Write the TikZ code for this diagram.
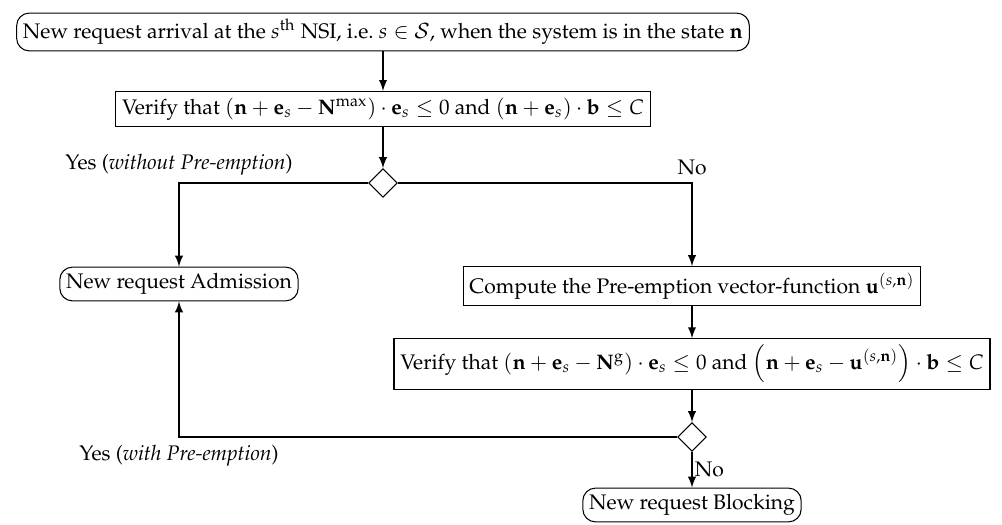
\documentclass[tikz,border=0pt]{standalone}
\usepackage[T1]{fontenc}
\usepackage{amsmath}
\usepackage{mathpazo}
\usepackage{tikz}
\usetikzlibrary{shapes.geometric}

\begin{document}
\begin{tikzpicture}[x=0.0167cm, y=-0.0167cm,
    roundbox/.style={draw, rounded corners=6pt, inner sep=3pt, line width=0.5pt},
    plainbox/.style={draw, inner sep=3pt, line width=0.5pt},
    choice/.style={draw, diamond, aspect=1, minimum width=0.48cm, minimum height=0.48cm, inner sep=0pt, line width=0.5pt},
    flow/.style={-latex, thick}]
            \useasboundingbox (0,0) rectangle (1002,525);
            % Boxes of the flow
                        \node[roundbox] (arrival) at (383,32) {New request arrival at the $s^{\text{th}}$ NSI, i.e.\ $s\in\mathcal{S}$, when the system is in the state $\mathbf{n}$};
                        \node[plainbox] (check) at (383,109) {Verify that $(\mathbf{n}+\mathbf{e}_s-\mathbf{N}^{\mathrm{max}})\cdot\mathbf{e}_s\le 0$ and $(\mathbf{n}+\mathbf{e}_s)\cdot\mathbf{b}\le C$};
                        \node[choice] (choiceA) at (383,183) {};
                        \node[roundbox] (admit) at (179,284) {New request Admission};
                        \node[plainbox] (preempt) at (692,286) {Compute the Pre-emption vector-function $\mathbf{u}^{(s,\mathbf{n})}$};
                        \node[plainbox] (recheck) at (692,364) {Verify that $(\mathbf{n}+\mathbf{e}_s-\mathbf{N}^{\mathrm{g}})\cdot\mathbf{e}_s\le 0$ and $\left(\mathbf{n}+\mathbf{e}_s-\mathbf{u}^{(s,\mathbf{n})}\right)\cdot\mathbf{b}\le C$};
                        \node[choice] (choiceB) at (692,437) {};
                        \node[roundbox] (block) at (692,505) {New request Blocking};
            % Connectors
                        \draw[flow] (arrival) -- (check);
                        \draw[flow] (check) -- (choiceA);
                        \draw[flow] (choiceA) -| node[pos=0.5, above] {Yes (\textit{without Pre-emption})} (admit);
                        \draw[flow] (choiceA) -| node[pos=0.5, above] {No} (preempt);
                        \draw[flow] (preempt) -- (recheck);
                        \draw[flow] (recheck) -- (choiceB);
                        \draw[flow] (choiceB) -| node[pos=0.5, below] {Yes (\textit{with Pre-emption})} (admit);
                        \draw[flow] (choiceB) -- node[right, inner sep=1pt] {No} (block);
        \end{tikzpicture}
\end{document}
